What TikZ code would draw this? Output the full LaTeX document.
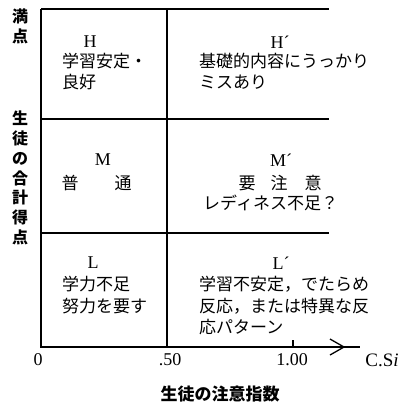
\documentclass[tikz,border=0pt]{standalone}
\usepackage{fontspec}
\setmainfont{Liberation Serif}
\newfontfamily\jp{Noto Sans CJK JP}
\begin{document}
\begin{tikzpicture}[x=1bp,y=-1bp,
  ln/.style={line width=1.3bp, black},
  jt/.style={font=\jp\fontsize{17bp}{20bp}\selectfont, inner sep=0pt, anchor=west},
  jc/.style={font=\jp\fontsize{17bp}{20bp}\selectfont, inner sep=0pt},
  lt/.style={font=\fontsize{18bp}{20bp}\selectfont, inner sep=0pt},
  ax/.style={font=\jp\bfseries\fontsize{16bp}{19.8bp}\selectfont, inner sep=0pt, align=center}]
\useasboundingbox (0,0) rectangle (402,407);
% frame coordinates
\coordinate (tl) at (41,9);
\coordinate (tm) at (167,9);
\coordinate (tr) at (329,9);
\coordinate (m1l) at (41,119);
\coordinate (m1r) at (329,119);
\coordinate (m2l) at (41,233);
\coordinate (m2r) at (329,233);
\coordinate (o) at (41,347);
\coordinate (bm) at (167,347);
\coordinate (xe) at (360,347);
\coordinate (tk1) at (293,340);
\coordinate (tk2) at (293,347);
\coordinate (a1) at (330,339);
\coordinate (a2) at (344,347);
\coordinate (a3) at (330,355);
% lines
\draw[ln] (tl) -- (tr);
\draw[ln] (m1l) -- (m1r);
\draw[ln] (m2l) -- (m2r);
\draw[ln] (tl) -- (o) -- (xe);
\draw[ln] (tm) -- (bm);
\draw[ln] (tk1) -- (tk2);
\draw[ln, line join=miter] (a1) -- (a2) -- (a3);
% axis labels
\node[ax] (ymax) at (20,26) {満\\点};
\node[ax] (ylab) at (20,178) {生\\徒\\の\\合\\計\\得\\点};
\node[ax, font=\jp\bfseries\fontsize{17bp}{20bp}\selectfont] (xlab) at (220,394) {生徒の注意指数};
\node[lt] (n0) at (38,360) {0};
\node[lt] (n50) at (170,360) {.50};
\node[lt] (n100) at (292,360) {1.00};
\node[lt, font=\fontsize{19bp}{20bp}\selectfont] (csi) at (382,360) {C.S\textit{i}};
% H
\node[lt] (H) at (90,42) {H};
\node[jt] (H1) at (62,61) {学習安定・};
\node[jt] (H2) at (62,82) {良好};
% H'
\node[lt] (Hp) at (280,42) {H´};
\node[jt] (Hp1) at (199,61) {基礎的内容にうっかり};
\node[jt] (Hp2) at (199,82) {ミスあり};
% M
\node[lt] (M) at (103,160) {M};
\node[jc] (M1) at (70,183) {普};
\node[jc] (M2) at (123,183) {通};
% M'
\node[lt] (Mp) at (281,160) {M´};
\node[jc] (Mp1) at (247,183) {要};
\node[jc] (Mp2) at (279,183) {注};
\node[jc] (Mp3) at (313,183) {意};
\node[jt] (Mp4) at (203,203) {レディネス不足？};
% L
\node[lt] (L) at (93,263) {L};
\node[jt] (L1) at (62,284) {学力不足};
\node[jt] (L2) at (62,306) {努力を要す};
% L'
\node[lt] (Lp) at (281,263) {L´};
\node[jt] (Lp1) at (199,284) {学習不安定，でたらめ};
\node[jt] (Lp2) at (199,306) {反応，または特異な反};
\node[jt] (Lp3) at (199,327) {応パターン};
\end{tikzpicture}
\end{document}
